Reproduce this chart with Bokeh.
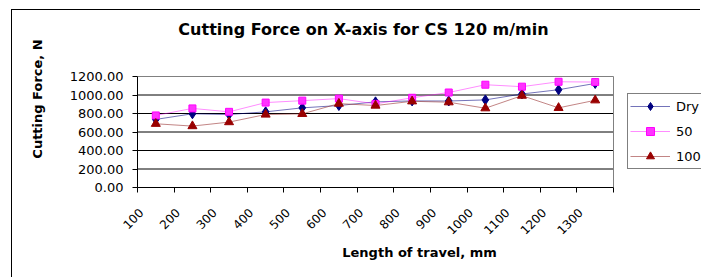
import math
from bokeh.plotting import figure
from bokeh.models import (Range1d, FixedTicker, NumeralTickFormatter, CustomJSTickFormatter,
                          Legend, LegendItem, Label)
from bokeh.embed import file_html
from bokeh.resources import INLINE

categories = ["100", "200", "300", "400", "500", "600", "700",
              "800", "900", "1000", "1100", "1200", "1300"]
dry = [736, 797, 789, 818, 861, 886, 926, 936, 935, 947, 1011, 1057, 1125]
c50 = [779, 855, 818, 918, 939, 961, 904, 970, 1027, 1111, 1090, 1143, 1140]
c100 = [689, 664, 707, 789, 796, 907, 886, 932, 922, 857, 993, 861, 943]
y_ticks = [0, 200, 400, 600, 800, 1000, 1200]

title_text = "Cutting Force on X-axis for CS 120 m/min"
x_title = "Length of travel, mm"
y_title = "Cutting Force, N"

FONT = "DejaVu Sans"
# figure placed at page (12, 10): 11/9 px margin + 1px border line
W, H = 689, 268
PL, PR, PT, PB = 125, 601, 66, 177      # plot area (canvas px)
FB = PB                                  # frame bottom
SHIFT = 0.4

n = len(categories)
xs = list(range(n))
y_max = y_ticks[-1]
x0, x1 = -0.5, n - 0.5
x_per_px = (x1 - x0) / (PR - PL)
y_per_px = y_max / (PB - PT)
x_end = x0 + (W - PL) * x_per_px
y_end = FB * y_per_px

p = figure(width=W, height=H, output_backend="svg", toolbar_location=None,
           x_range=Range1d(x0, x_end), y_range=Range1d(0, y_end),
           min_border_left=PL, min_border_right=0,
           min_border_top=0, min_border_bottom=H - FB)
p.title.visible = False
p.margin = (9, 0, 0, 11)
p.styles = {"border-left": "1px solid black", "border-top": "1px solid black"}
p.background_fill_color = "white"
p.border_fill_color = "white"
p.outline_line_color = None

# y axis
p.yaxis.bounds = (0, y_max)
p.yaxis.ticker = FixedTicker(ticks=y_ticks)
p.yaxis.formatter = NumeralTickFormatter(format="0.00")
p.yaxis.major_tick_out = 5
p.yaxis.major_tick_in = 0
p.yaxis.minor_tick_line_color = None
p.yaxis.axis_line_color = "black"
p.yaxis.major_tick_line_color = "black"
p.yaxis.major_label_text_font = FONT
p.yaxis.major_label_text_font_size = "13px"
p.yaxis.major_label_text_color = "black"
p.yaxis.major_label_standoff = 9
p.yaxis.axis_label = y_title
p.yaxis.axis_label_text_font = FONT
p.yaxis.axis_label_text_font_style = "bold"
p.yaxis.axis_label_text_font_size = "13px"
p.yaxis.axis_label_text_color = "black"
p.yaxis.axis_label_standoff = 22

# x axis: boundary ticks as minor ticks, labels near category centres
p.xaxis.bounds = (x0, x1)
p.xaxis.ticker = FixedTicker(ticks=[i - SHIFT for i in xs],
                             minor_ticks=[i - 0.5 for i in range(n + 1)])
p.xaxis.formatter = CustomJSTickFormatter(args=dict(cats=categories, s=SHIFT),
                                          code="const i = Math.round(tick + s); return cats[i] ?? '';")
p.xaxis.major_tick_line_color = None
p.xaxis.minor_tick_line_color = "black"
p.xaxis.minor_tick_out = 5
p.xaxis.minor_tick_in = 0
p.xaxis.axis_line_color = "black"
p.xaxis.major_label_orientation = math.pi / 4
p.xaxis.major_label_text_font = FONT
p.xaxis.major_label_text_font_size = "12px"
p.xaxis.major_label_text_color = "black"
p.xaxis.major_label_standoff = 17
p.xaxis.axis_label = x_title
p.xaxis.axis_label_text_font = FONT
p.xaxis.axis_label_text_font_style = "bold"
p.xaxis.axis_label_text_font_size = "13px"
p.xaxis.axis_label_text_color = "black"
p.xaxis.axis_label_standoff = 4

p.xgrid.visible = False
p.ygrid.visible = False

# gridlines and plot-area border, limited to the plot area
grid_vals = y_ticks[1:-1]
p.segment(x0=[x0] * len(grid_vals), x1=[x1] * len(grid_vals), y0=grid_vals, y1=grid_vals,
          line_color="black", line_width=1)
p.segment(x0=[x0, x1], x1=[x1, x1], y0=[y_max, 0], y1=[y_max, y_max],
          line_color="#808080", line_width=1)

# series
l1 = p.line(xs, dry, line_color="#000080", line_width=1, line_alpha=0.55)
m1 = p.scatter(xs, dry, marker="diamond", size=10, fill_color="#000080", line_color="#000080")
l2 = p.line(xs, c50, line_color="#FF00FF", line_width=1, line_alpha=0.45)
m2 = p.scatter(xs, c50, marker="square", size=7, fill_color="#FF33FF", line_color="#FF00FF")
l3 = p.line(xs, c100, line_color="#993333", line_width=1, line_alpha=0.6)
m3 = p.scatter(xs, c100, marker="triangle", size=9, fill_color="#990000", line_color="#990000")

legend = Legend(items=[LegendItem(label="Dry", renderers=[l1, m1]),
                       LegendItem(label="50", renderers=[l2, m2]),
                       LegendItem(label="100", renderers=[l3, m3])],
                location=(PR - PL + 14, 18), orientation="vertical")
legend.border_line_color = "black"
legend.border_line_width = 1
legend.background_fill_color = "white"
legend.label_text_font = FONT
legend.label_text_font_size = "13px"
legend.label_text_color = "black"
legend.glyph_width = 40
legend.glyph_height = 20
legend.label_height = 20
legend.label_standoff = 6
legend.spacing = 5
legend.padding = 2
legend.margin = 0
p.add_layout(legend, "center")

# chart title (inside the extended frame, above the plot area)
title_cx = 351 - PL          # px from plot-area left
title_cy = 19                # px from canvas top
p.add_layout(Label(x=x0 + title_cx * x_per_px, y=(FB - title_cy) * y_per_px,
                   text=title_text, text_font=FONT, text_font_style="bold",
                   text_font_size="16px", text_align="center", text_baseline="middle",
                   text_color="black"))

open("out.html", "w").write(file_html(p, INLINE))
